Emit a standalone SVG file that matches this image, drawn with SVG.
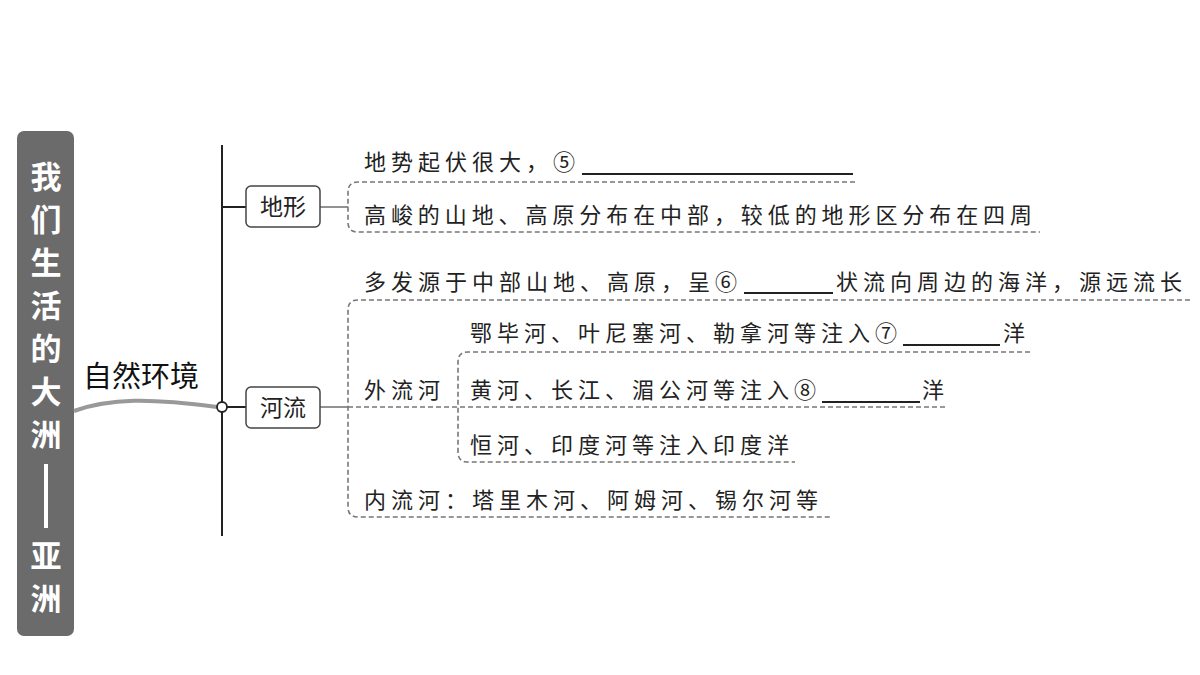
<svg xmlns="http://www.w3.org/2000/svg" width="1200" height="675" viewBox="0 0 1200 675">
<style>
.t{font-family:"Noto Sans CJK SC","Noto Sans",sans-serif;font-size:22px;fill:#222;letter-spacing:5px}
.n{font-family:"Noto Sans CJK SC",sans-serif;font-size:23px;fill:#222;text-anchor:middle}
.d{fill:none;stroke:#777;stroke-width:1.6;stroke-dasharray:5 3}
.s{fill:none;stroke:#222;stroke-width:2}
.u{stroke:#222;stroke-width:2}
.w{font-family:"Noto Sans CJK SC",sans-serif;font-size:31px;font-weight:bold;fill:#fff;text-anchor:middle}
</style>
<rect width="1200" height="675" fill="#fff"/>
<g id="title">
<rect x="17" y="131" width="57" height="505" rx="7" fill="#6b6b6b"/>
<text class="w" x="46" y="188">我</text><text class="w" x="46" y="231">们</text><text class="w" x="46" y="274">生</text><text class="w" x="46" y="317">活</text><text class="w" x="46" y="360">的</text><text class="w" x="46" y="403">大</text><text class="w" x="46" y="446">洲</text>
<line x1="46" y1="464" x2="46" y2="528" stroke="#fff" stroke-width="4"/>
<text class="w" x="46" y="567">亚</text><text class="w" x="46" y="610">洲</text>
</g>
<g id="connectors">
<path d="M74 411 C110 398 150 398 217 407" fill="none" stroke="#999" stroke-width="4"/>
<line class="s" x1="222" y1="145" x2="222" y2="536"/>
<line class="s" x1="222" y1="207" x2="246" y2="207"/>
<line class="s" x1="227" y1="407" x2="246" y2="407"/>
<line x1="320" y1="207" x2="348" y2="207" stroke="#777" stroke-width="1.6"/>
<line x1="320" y1="407" x2="348" y2="407" stroke="#777" stroke-width="1.6"/>
<path class="d" d="M855 182 H358 Q348 182 348 192 V222 Q348 232 358 232 H1040"/>
<path class="d" d="M1190 300 H358 Q348 300 348 310 V507 Q348 517 358 517 H830"/>
<path class="d" d="M348 407 H945"/>
<path class="d" d="M1030 352 H468 Q458 352 458 362 V452 Q458 462 468 462 H795"/>
<circle cx="222" cy="407" r="5" fill="#fff" stroke="#222" stroke-width="1.8"/>
</g>
<g id="main"><text x="141" y="387" font-family="Noto Sans CJK SC,sans-serif" font-size="29" fill="#111" text-anchor="middle">自然环境</text></g>
<g id="dixing"><rect x="246" y="186" width="74" height="41" rx="5" fill="#fff" stroke="#444" stroke-width="1.5"/><text class="n" x="283" y="215">地形</text></g>
<g id="heliu"><rect x="246" y="387" width="74" height="41" rx="5" fill="#fff" stroke="#444" stroke-width="1.5"/><text class="n" x="283" y="416">河流</text></g>
<g id="texts">
<text class="t" x="364" y="170">地势起伏很大，⑤</text><line class="u" x1="582" y1="174" x2="853" y2="174"/>
<text class="t" x="364" y="223" textLength="673" lengthAdjust="spacing">高峻的山地、高原分布在中部，较低的地形区分布在四周</text>
<text class="t" x="364" y="290">多发源于中部山地、高原，呈⑥</text><line class="u" x1="744" y1="293" x2="833" y2="293"/>
<text class="t" x="836" y="290">状流向周边的海洋，源远流长</text>
<text class="t" x="470" y="341">鄂毕河、叶尼塞河、勒拿河等注入⑦</text><line class="u" x1="903" y1="345" x2="1000" y2="345"/><text class="t" x="1003" y="341">洋</text>
<text class="t" x="364" y="398">外流河</text>
<text class="t" x="470" y="398">黄河、长江、湄公河等注入⑧</text><line class="u" x1="822" y1="402" x2="920" y2="402"/><text class="t" x="922" y="398">洋</text>
<text class="t" x="470" y="453">恒河、印度河等注入印度洋</text>
<text class="t" x="364" y="508">内流河：塔里木河、阿姆河、锡尔河等</text>
</g>
</svg>
